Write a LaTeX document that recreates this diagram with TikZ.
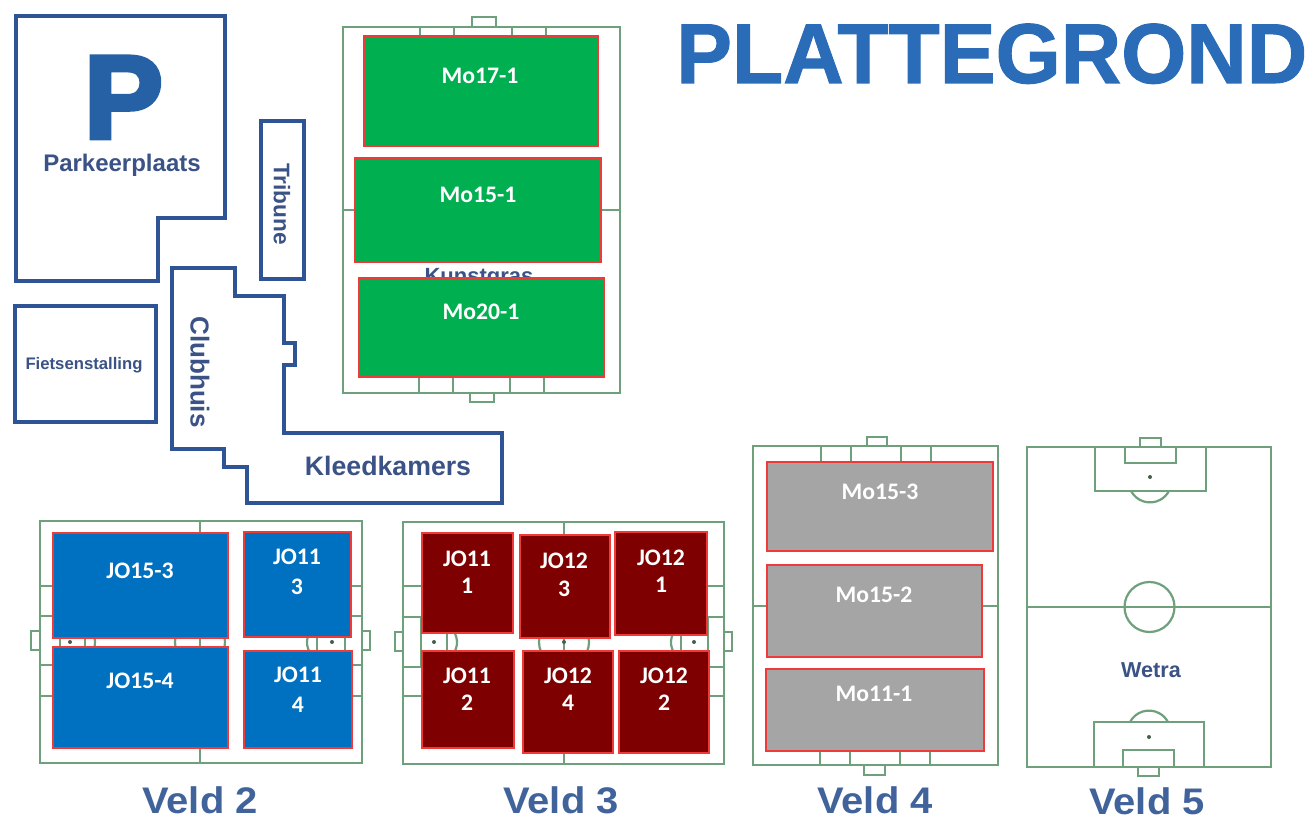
\documentclass[tikz,border=0pt]{standalone}
\usepackage{fontspec}
\setmainfont{Liberation Sans}
\newfontfamily\lblfamily{Carlito}
\newfontfamily\heavyfont[BoldFeatures={FakeBold=1.2}]{Liberation Sans}
\newfontfamily\heavierfont[BoldFeatures={FakeBold=4}]{Liberation Sans}
\definecolor{navyline}{HTML}{2F5496}
\definecolor{navytext}{HTML}{3A5285}
\definecolor{veldtext}{HTML}{41639B}
\definecolor{titleblue}{HTML}{2B6CB8}
\definecolor{pitch}{HTML}{6FA07C}
\definecolor{boxred}{HTML}{F03A3A}
\definecolor{plotgreen}{HTML}{00B050}
\definecolor{plotblue}{HTML}{0070C0}
\definecolor{plotmaroon}{HTML}{7F0000}
\definecolor{plotgray}{HTML}{A5A5A5}
\tikzset{
  building/.style={draw=navyline,line width=4.5pt,line join=miter},
  pitchline/.style={draw=pitch,line width=2.2pt},
  spot/.style={fill=pitch!60!black,draw=none},
  plotbox/.style={draw=boxred,line width=1.4pt},
  plotlabel/.style={text=white,inner sep=0pt,align=center,font=\lblfamily\bfseries\fontsize{23.7}{27}\selectfont},
  maptext/.style={text=navytext,inner sep=0pt,font=\bfseries},
  veldname/.style={text=veldtext,inner sep=0pt,anchor=base,xscale=1.08,font=\bfseries\fontsize{37}{37}\selectfont},
}
\begin{document}
\begin{tikzpicture}[x=1pt,y=-1pt]
\useasboundingbox (0,0) rectangle (1309,818);
\fill[white] (0,0) rectangle (1309,818);

% title
\node[inner sep=0pt,anchor=base west,text=titleblue,xscale=0.985,font=\heavyfont\bfseries\fontsize{85}{85}\selectfont] (title) at (676,83) {PLATTEGROND};

% buildings
\draw[building] (16,16) -- (225,16) -- (225,218) -- (158,218) -- (158,281) -- (16,281) -- cycle;
\node[inner sep=0pt,anchor=base west,text=titleblue!90!black,font=\heavierfont\bfseries\fontsize{118}{118}\selectfont] (bigp) at (84,138) {P};
\node[maptext,anchor=base,font=\bfseries\fontsize{24}{24}\selectfont] (parking) at (122,172) {Parkeerplaats};
\draw[building] (261,121) rectangle (304,279);
\node[maptext,rotate=-90,font=\bfseries\fontsize{22.6}{24}\selectfont] (tribune) at (282,204) {Tribune};
\draw[building] (15,306) rectangle (156,422);
\node[maptext,font=\bfseries\fontsize{16.7}{18}\selectfont] (fiets) at (84,365) {Fietsenstalling};
\draw[building] (172,268) -- (235,268) -- (235,296) -- (284,296) -- (284,343) -- (295,343) -- (295,365) -- (284,365) -- (284,433) -- (502,433) -- (502,503) -- (247,503) -- (247,467) -- (224,467) -- (224,449) -- (172,449) -- cycle;
\node[maptext,rotate=-90,font=\bfseries\fontsize{26}{28}\selectfont] (clubhuis) at (200,372) {Clubhuis};
\node[maptext,anchor=base,font=\bfseries\fontsize{26.7}{28}\selectfont] (kleed) at (388,475) {Kleedkamers};

% Kunstgras pitch
\draw[pitchline] (343,27) rectangle (620,393);
\draw[pitchline] (472,27) -- (472,17) -- (496,17) -- (496,27);
\draw[pitchline] (470,393) -- (470,402) -- (494,402) -- (494,393);
\draw[pitchline] (420,27) -- (420,70) -- (546,70) -- (546,27);
\draw[pitchline] (454,27) -- (454,45) -- (512,45) -- (512,27);
\draw[pitchline] (419,393) -- (419,350) -- (544,350) -- (544,393);
\draw[pitchline] (453,393) -- (453,375) -- (510,375) -- (510,393);
\draw[pitchline] (343,210) -- (620,210);
\node[maptext,anchor=base,font=\bfseries\fontsize{22}{24}\selectfont] (kunst) at (479,284) {Kunstgras};
\draw[plotbox,fill=plotgreen] (364,36) rectangle (598,146);
\draw[plotbox,fill=plotgreen] (355,158) rectangle (601,262);
\draw[plotbox,fill=plotgreen] (359,278) rectangle (604,377);
\node[plotlabel] (m171) at (480,76) {Mo17-1};
\node[plotlabel] (m151) at (478,195) {Mo15-1};
\node[plotlabel] (m201) at (481,312) {Mo20-1};

% Veld 2
\draw[pitchline] (40,521) rectangle (362,763);
\draw[pitchline] (200,521) -- (200,763);
\draw[pitchline] (200,642) circle (25);
\draw[pitchline] (40,631) -- (31,631) -- (31,650) -- (40,650);
\draw[pitchline] (362,631) -- (370,631) -- (370,650) -- (362,650);
\draw[pitchline] (40,586) rectangle (85,696);
\draw[pitchline] (40,616) rectangle (60,665);
\draw[pitchline] (362,586) rectangle (317,696);
\draw[pitchline] (362,616) rectangle (345,665);
\draw[pitchline] (85,625) arc[start angle=-60,end angle=60,radius=20];
\draw[pitchline] (317,625) arc[start angle=240,end angle=120,radius=20];
\fill[spot] (70,642) circle (2);
\fill[spot] (332,642) circle (2);
\draw[plotbox,fill=plotblue] (53,533) rectangle (228,638);
\draw[plotbox,fill=plotblue] (53,647) rectangle (228,748);
\draw[plotbox,fill=plotblue] (244,532) rectangle (351,637);
\draw[plotbox,fill=plotblue] (244,651) rectangle (352,748);
\node[plotlabel] (j153) at (140,571) {JO15-3};
\node[plotlabel] (j154) at (140,681) {JO15-4};
\node[plotlabel] (j113) at (297,572) {JO11\\[3pt]3};
\node[plotlabel] (j114) at (298,690) {JO11\\[3pt]4};
\node[veldname] (v2) at (200,813) {Veld 2};

% Veld 3
\draw[pitchline] (403,522) rectangle (724,764);
\draw[pitchline] (564,522) -- (564,764);
\draw[pitchline] (564,642) circle (25);
\draw[pitchline] (403,632) -- (395,632) -- (395,651) -- (403,651);
\draw[pitchline] (724,632) -- (732,632) -- (732,651) -- (724,651);
\draw[pitchline] (403,586) rectangle (447,696);
\draw[pitchline] (403,617) rectangle (421,667);
\draw[pitchline] (724,586) rectangle (681,696);
\draw[pitchline] (724,617) rectangle (708,667);
\draw[pitchline] (447,625) arc[start angle=-60,end angle=60,radius=20];
\draw[pitchline] (681,625) arc[start angle=240,end angle=120,radius=20];
\fill[spot] (434,642) circle (2);
\fill[spot] (694,642) circle (2);
\fill[spot] (564,642) circle (2);
\draw[plotbox,fill=plotmaroon] (422,533) rectangle (513,633);
\draw[plotbox,fill=plotmaroon] (520,535) rectangle (610,638);
\draw[plotbox,fill=plotmaroon] (615,532) rectangle (707,635);
\draw[plotbox,fill=plotmaroon] (422,651) rectangle (514,748);
\draw[plotbox,fill=plotmaroon] (523,651) rectangle (613,753);
\draw[plotbox,fill=plotmaroon] (619,651) rectangle (709,753);
\node[plotlabel] (j111) at (467,572) {JO11\\1};
\node[plotlabel] (j123) at (564,575) {JO12\\[1pt]3};
\node[plotlabel] (j121) at (661,571) {JO12\\1};
\node[plotlabel] (j112) at (467,689) {JO11\\2};
\node[plotlabel] (j124) at (568,689) {JO12\\4};
\node[plotlabel] (j122) at (664,689) {JO12\\2};
\node[veldname] (v3) at (561,813) {Veld 3};

% Veld 4
\draw[pitchline] (753,446) rectangle (998,765);
\draw[pitchline] (867,446) -- (867,437) -- (887,437) -- (887,446);
\draw[pitchline] (864,765) -- (864,775) -- (885,775) -- (885,765);
\draw[pitchline] (821,446) -- (821,490) -- (931,490) -- (931,446);
\draw[pitchline] (851,446) -- (851,470) -- (901,470) -- (901,446);
\draw[pitchline] (820,765) -- (820,725) -- (930,725) -- (930,765);
\draw[pitchline] (850,765) -- (850,745) -- (900,745) -- (900,765);
\draw[pitchline] (753,606) -- (998,606);
\draw[plotbox,fill=plotgray] (767,462) rectangle (993,551);
\draw[plotbox,fill=plotgray] (767,565) rectangle (982,657);
\draw[plotbox,fill=plotgray] (766,669) rectangle (984,751);
\node[plotlabel] (m153) at (880,492) {Mo15-3};
\node[plotlabel] (m152) at (874,595) {Mo15-2};
\node[plotlabel] (m111) at (874,694) {Mo11-1};
\node[veldname] (v4) at (875,813) {Veld 4};

% Veld 5
\draw[pitchline] (1027,447) rectangle (1271,767);
\draw[pitchline] (1140,447) -- (1140,438) -- (1161,438) -- (1161,447);
\draw[pitchline] (1138,767) -- (1138,776) -- (1159,776) -- (1159,767);
\draw[pitchline] (1095,447) -- (1095,491) -- (1206,491) -- (1206,447);
\draw[pitchline] (1125,447) -- (1125,463) -- (1176,463) -- (1176,447);
\draw[pitchline] (1094,767) -- (1094,722) -- (1204,722) -- (1204,767);
\draw[pitchline] (1123,767) -- (1123,750) -- (1174,750) -- (1174,767);
\draw[pitchline] (1131,491) arc[start angle=152,end angle=28,radius=21.5];
\draw[pitchline] (1130,722) arc[start angle=208,end angle=332,radius=21.5];
\draw[pitchline] (1027,607) -- (1271,607);
\draw[pitchline] (1149.5,607) circle (25);
\fill[spot] (1150,477) circle (2);
\fill[spot] (1149,737) circle (2);
\node[maptext,font=\bfseries\fontsize{21.6}{24}\selectfont] (wetra) at (1151,670) {Wetra};
\node[veldname] (v5) at (1147,814) {Veld 5};
\end{tikzpicture}
\end{document}
